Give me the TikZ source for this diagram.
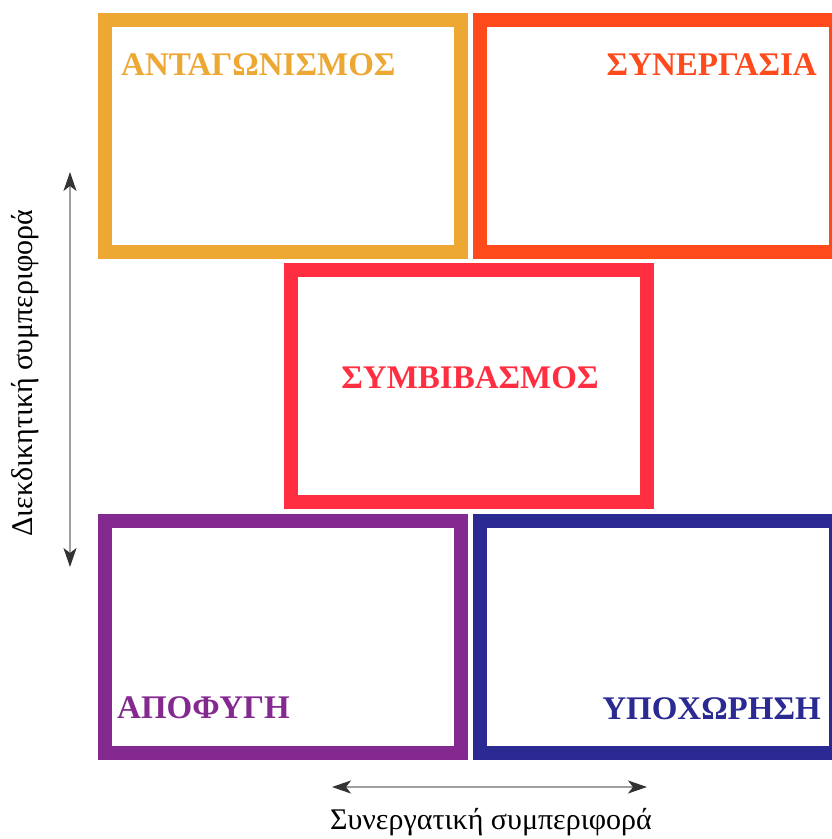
\documentclass[tikz,border=0pt]{standalone}
\usepackage{fontspec}
\setmainfont{Liberation Serif}
\usetikzlibrary{arrows.meta,positioning}
\definecolor{antcol}{RGB}{237,168,51}
\definecolor{syncol}{RGB}{255,74,28}
\definecolor{symcol}{RGB}{255,46,65}
\definecolor{apocol}{RGB}{131,41,143}
\definecolor{ypocol}{RGB}{42,42,146}
\begin{document}
\begin{tikzpicture}[x=1pt,y=-1pt,
	feld/.style={draw,line width=14pt,minimum width=356pt,minimum height=232pt,inner sep=0pt},
	titel/.style={font=\bfseries\fontsize{33}{33}\selectfont,inner sep=0pt},
	achse/.style={draw=gray!75,line width=1.8pt,{Stealth[length=19pt,width=13pt,inset=5pt,color=black!80]}-{Stealth[length=19pt,width=13pt,inset=5pt,color=black!80]}}]
		\useasboundingbox[fill=white] (0,0) rectangle (832,839);
		%Felder oben
		\node at (283,136) [feld,draw=antcol] (ant) {};
		\node at (658,136) [feld,draw=syncol] (syn) {};
		%Feld Mitte
		\node at (469,386) [feld,draw=symcol] (sym) {};
		%Felder unten
		\node at (283,636.5) [feld,draw=apocol] (apo) {};
		\node at (658,636.5) [feld,draw=ypocol] (ypo) {};
		%Beschriftung
		\node at ([shift={(23,62)}]ant.north west) [titel,text=antcol,anchor=base west] (antlbl) {ΑΝΤΑΓΩΝΙΣΜΟΣ};
		\node at ([shift={(344,62)}]syn.north west) [titel,text=syncol,anchor=base east] (synlbl) {ΣΥΝΕΡΓΑΣΙΑ};
		\node at ([shift={(1,2)}]sym.center) [titel,text=symcol,anchor=base] (symlbl) {ΣΥΜΒΙΒΑΣΜΟΣ};
		\node at ([shift={(19,-41)}]apo.south west) [titel,text=apocol,anchor=base west] (apolbl) {ΑΠΟΦΥΓΗ};
		\node at ([shift={(348,-40)}]ypo.south west) [titel,text=ypocol,anchor=base east] (ypolbl) {ΥΠΟΧΩΡΗΣΗ};
		%Achsen
		\coordinate (v1) at (70,567);
		\coordinate (v2) at (70,172);
		\draw[achse] (v1) -- (v2);
		\node at (25,373) [rotate=90,font=\fontsize{30}{30}\selectfont,inner sep=0pt] (vlbl) {Διεκδικητική συμπεριφορά};
		\coordinate (h1) at (332,787);
		\coordinate (h2) at (647,787);
		\draw[achse] (h1) -- (h2);
		\node at (491,822) [font=\fontsize{30}{30}\selectfont,inner sep=0pt] (hlbl) {Συνεργατική συμπεριφορά};
\end{tikzpicture}
\end{document}
